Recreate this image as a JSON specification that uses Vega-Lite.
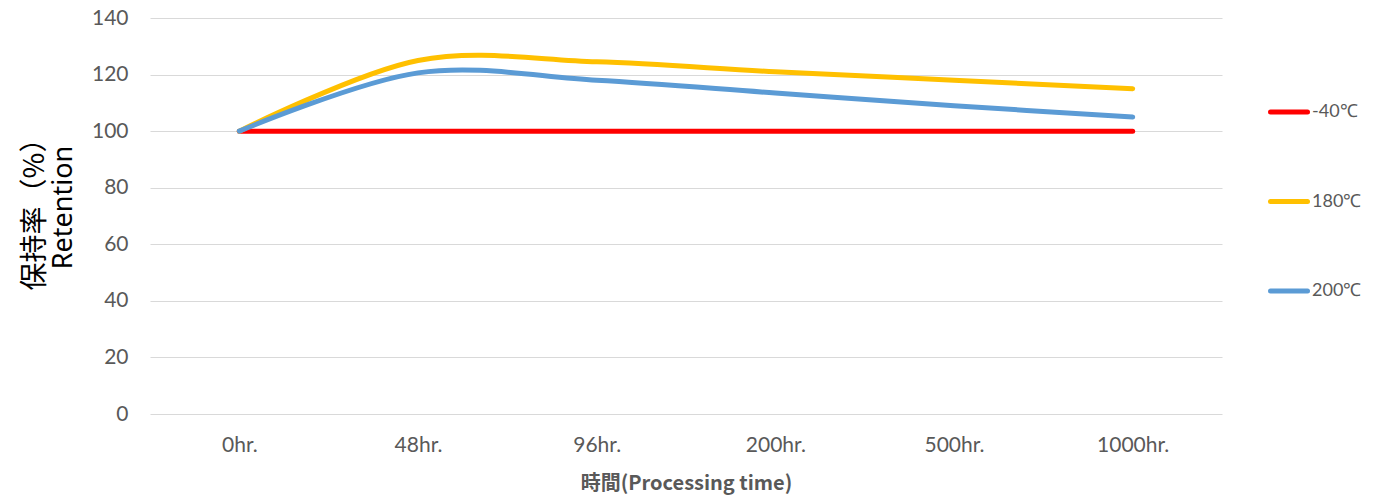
{
  "$schema": "https://vega.github.io/schema/vega-lite/v6.json",
  "width": 1072,
  "height": 396,
  "autosize": {"type": "none"},
  "padding": {"left": 150, "top": 18, "right": 153, "bottom": 85},
  "background": "white",
  "config": {"view": {"stroke": null}},
  "data": {
    "values": [
      {"time": "0hr.", "series": "-40℃", "value": 100},
      {"time": "48hr.", "series": "-40℃", "value": 100},
      {"time": "96hr.", "series": "-40℃", "value": 100},
      {"time": "200hr.", "series": "-40℃", "value": 100},
      {"time": "500hr.", "series": "-40℃", "value": 100},
      {"time": "1000hr.", "series": "-40℃", "value": 100},
      {"time": "0hr.", "series": "180℃", "value": 100},
      {"time": "48hr.", "series": "180℃", "value": 125},
      {"time": "96hr.", "series": "180℃", "value": 124.5},
      {"time": "200hr.", "series": "180℃", "value": 121},
      {"time": "500hr.", "series": "180℃", "value": 118},
      {"time": "1000hr.", "series": "180℃", "value": 115},
      {"time": "0hr.", "series": "200℃", "value": 100},
      {"time": "48hr.", "series": "200℃", "value": 120.6},
      {"time": "96hr.", "series": "200℃", "value": 118},
      {"time": "200hr.", "series": "200℃", "value": 113.5},
      {"time": "500hr.", "series": "200℃", "value": 109},
      {"time": "1000hr.", "series": "200℃", "value": 105}
    ]
  },
  "layer": [
    {
      "mark": {"type": "line", "interpolate": "cardinal", "strokeWidth": 5, "strokeCap": "round", "strokeJoin": "round"},
      "encoding": {
        "x": {
          "field": "time", "type": "ordinal", "sort": null,
          "scale": {"type": "point", "padding": 0.5},
          "axis": {
            "title": "時間(Processing time)",
            "titleFont": "Noto Sans CJK JP", "titleFontSize": 20, "titleFontWeight": "bold", "titleColor": "#595959",
            "titlePadding": 18,
            "labelFont": "Lato", "labelFontSize": 21, "labelColor": "#595959", "labelPadding": 20,
            "labelAngle": 0, "ticks": false, "domain": false, "grid": false
          }
        },
        "y": {
          "field": "value", "type": "quantitative",
          "scale": {"domain": [0, 140], "nice": false},
          "axis": {
            "orient": "left",
            "title": "Retention",
            "titleFont": "Noto Sans", "titleFontSize": 27, "titleFontWeight": "normal", "titleColor": "#000000",
            "titlePadding": 14, "titleY": 189,
            "values": [0, 20, 40, 60, 80, 100, 120, 140],
            "labelFont": "Lato", "labelFontSize": 21, "labelColor": "#595959", "labelPadding": 22,
            "ticks": false, "tickSize": 0, "domain": false,
            "grid": true, "gridColor": "#D9D9D9", "gridWidth": 1
          }
        },
        "color": {
          "field": "series", "type": "nominal", "sort": ["-40℃", "180℃", "200℃"],
          "scale": {"domain": ["-40℃", "180℃", "200℃"], "range": ["#FF0000", "#FFC000", "#5B9BD5"]},
          "legend": {
            "title": null, "orient": "none", "legendX": 1118, "legendY": 73,
            "symbolType": "stroke", "symbolSize": 1369, "symbolStrokeWidth": 5,
            "labelFont": "Lato", "labelFontSize": 18, "labelColor": "#595959", "labelOffset": 2,
            "rowPadding": 58.5, "padding": 0,
            "encode": {"symbols": {"update": {"strokeCap": {"value": "round"}}}}
          }
        }
      }
    },
    {
      "mark": {"type": "line", "opacity": 0},
      "encoding": {
        "x": {"field": "time", "type": "ordinal", "sort": null},
        "y": {
          "field": "value", "type": "quantitative",
          "scale": {"domain": [0, 140], "nice": false},
          "axis": {
            "orient": "left", "offset": 99,
            "title": "保持率（%）",
            "titleFont": "Noto Sans CJK JP", "titleFontSize": 28, "titleFontWeight": "normal", "titleColor": "#000000",
            "titlePadding": 2, "titleY": 189,
            "labels": false, "ticks": false, "domain": false, "grid": false
          }
        },
        "detail": {"field": "series"}
      }
    }
  ],
  "resolve": {"scale": {"y": "independent"}}
}
